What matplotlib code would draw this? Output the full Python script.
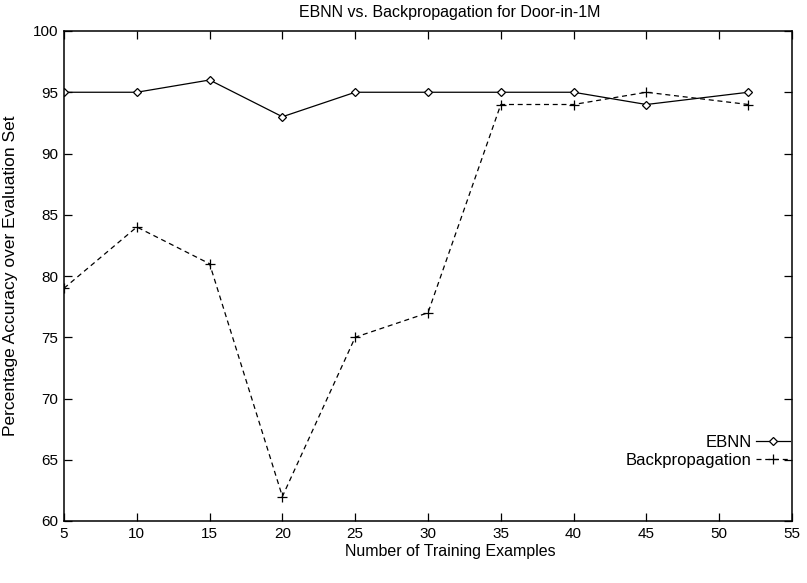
import matplotlib; matplotlib.use("Agg")
import matplotlib.pyplot as plt

x_ebnn = [5, 10, 15, 20, 25, 30, 35, 40, 45, 52]
y_ebnn = [95, 95, 96, 93, 95, 95, 95, 95, 94, 95]
x_bp = [5, 10, 15, 20, 25, 30, 35, 40, 45, 52]
y_bp = [79, 84, 81, 62, 75, 77, 94, 94, 95, 94]

plt.rcParams["font.family"] = ["Liberation Sans", "DejaVu Sans"]
fig = plt.figure(figsize=(8.07, 5.83), dpi=100)
L, R, T, B = 64, 792, 31, 521
ax = fig.add_axes([L/807, 1 - B/583, (R-L)/807, (B-T)/583])

ax.plot(x_ebnn, y_ebnn, "k-", lw=0.9, marker="D", ms=4.5, mfc="white", mec="k", mew=0.9, label="EBNN")
ax.plot(x_bp, y_bp, "k--", lw=0.9, dashes=(4, 3), marker="+", ms=7, mew=0.9, label="Backpropagation")

ax.set_xlim(5, 55); ax.set_ylim(60, 100)
ax.set_xticks(range(5, 56, 5)); ax.set_yticks(range(60, 101, 5))
ax.tick_params(direction="in", length=6, width=0.9, top=True, right=True, labelsize=11, pad=4)
for s in ax.spines.values():
    s.set_linewidth(1.1)

ax.set_xlabel("Number of Training Examples", fontsize=11.5)
ax.xaxis.set_label_coords((450-L)/(R-L), -0.047)
ax.set_ylabel("Percentage Accuracy over Evaluation Set", fontsize=12.5)
ax.yaxis.set_label_coords((18-L)/(R-L), 0.5)
fig.text(450/807, 1 - 12/583, "EBNN vs. Backpropagation for Door-in-1M", fontsize=11.5,
         ha="center", va="center")

ax.legend(loc="lower right", bbox_to_anchor=(0.997, 0.108), frameon=False, fontsize=12,
          markerfirst=False, handlelength=2.0, handletextpad=0.3, labelspacing=0.2,
          borderpad=0, borderaxespad=0)

fig.savefig("out.png", dpi=100)
